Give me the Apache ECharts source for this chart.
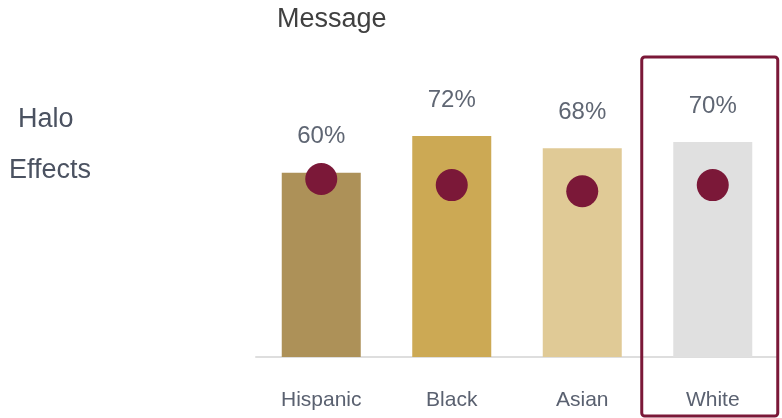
<!DOCTYPE html>
<html>
<head>
<meta charset="utf-8">
<script src="https://cdn.jsdelivr.net/npm/echarts@6/dist/echarts.min.js"></script>
<style>
  html, body { margin: 0; padding: 0; background: #ffffff; }
  #chart { width: 782px; height: 418px; }
</style>
</head>
<body>
<div id="chart"></div>
<script>
// Groups along the x axis
const categories = ['Hispanic', 'Black', 'Asian', 'White'];
// Bar heights (percent)
const barValues = [60, 72, 68, 70];
// Dot positions (percent)
const dotValues = [58, 56, 54, 56];
// Fill for each bar
const barColors = ['#AD9158', '#CCA954', '#E0CA96', '#E0E0E0'];
// Group outlined by the highlight frame
const highlighted = 'White';

const FONT = '"Liberation Sans", Arial, sans-serif';
const MAROON = '#7B1838';

const chart = echarts.init(document.getElementById('chart'), null, { renderer: 'canvas' });

const option = {
  animation: false,
  backgroundColor: '#ffffff',
  title: [
    { text: 'Message', left: 272, top: 1,
      textStyle: { fontFamily: FONT, fontSize: 27, fontWeight: 'normal', color: '#404040' } },
    { text: 'Halo', left: 13, top: 101,
      textStyle: { fontFamily: FONT, fontSize: 27, fontWeight: 'normal', color: '#4B5261' } },
    { text: 'Effects', left: 4, top: 152,
      textStyle: { fontFamily: FONT, fontSize: 27, fontWeight: 'normal', color: '#4B5261' } }
  ],
  grid: { left: 256, right: 4, top: 50, bottom: 61, containLabel: false },
  xAxis: {
    type: 'category',
    data: categories,
    axisLine: { show: true, lineStyle: { color: '#DEDEDE', width: 2 } },
    axisTick: { show: false },
    axisLabel: { fontFamily: FONT, fontSize: 21, color: '#5A6170', margin: 33 }
  },
  yAxis: {
    type: 'value', min: 0, max: 100,
    show: false,
    splitLine: { show: false }
  },
  series: [
    {
      type: 'bar',
      barWidth: 79,
      data: barValues.map((v, i) => ({ value: v, itemStyle: { color: barColors[i] } })),
      label: {
        show: true, position: 'top', distance: 24,
        formatter: p => p.value + '%',
        fontFamily: FONT, fontSize: 24, color: '#5F6673'
      },
      z: 2
    },
    {
      type: 'scatter',
      symbol: 'circle',
      symbolSize: 32,
      data: dotValues,
      itemStyle: { color: MAROON, opacity: 1 },
      z: 3
    }
  ]
};

chart.setOption(option);

// Frame drawn around the highlighted group, centred on its category
const cx = chart.convertToPixel({ xAxisIndex: 0 }, highlighted);
chart.setOption({
  graphic: [{
    type: 'rect',
    shape: { x: cx - 71, y: 57, width: 136, height: 359, r: 3 },
    style: { fill: 'none', stroke: MAROON, lineWidth: 3 },
    z: 10
  }]
});
</script>
</body>
</html>
